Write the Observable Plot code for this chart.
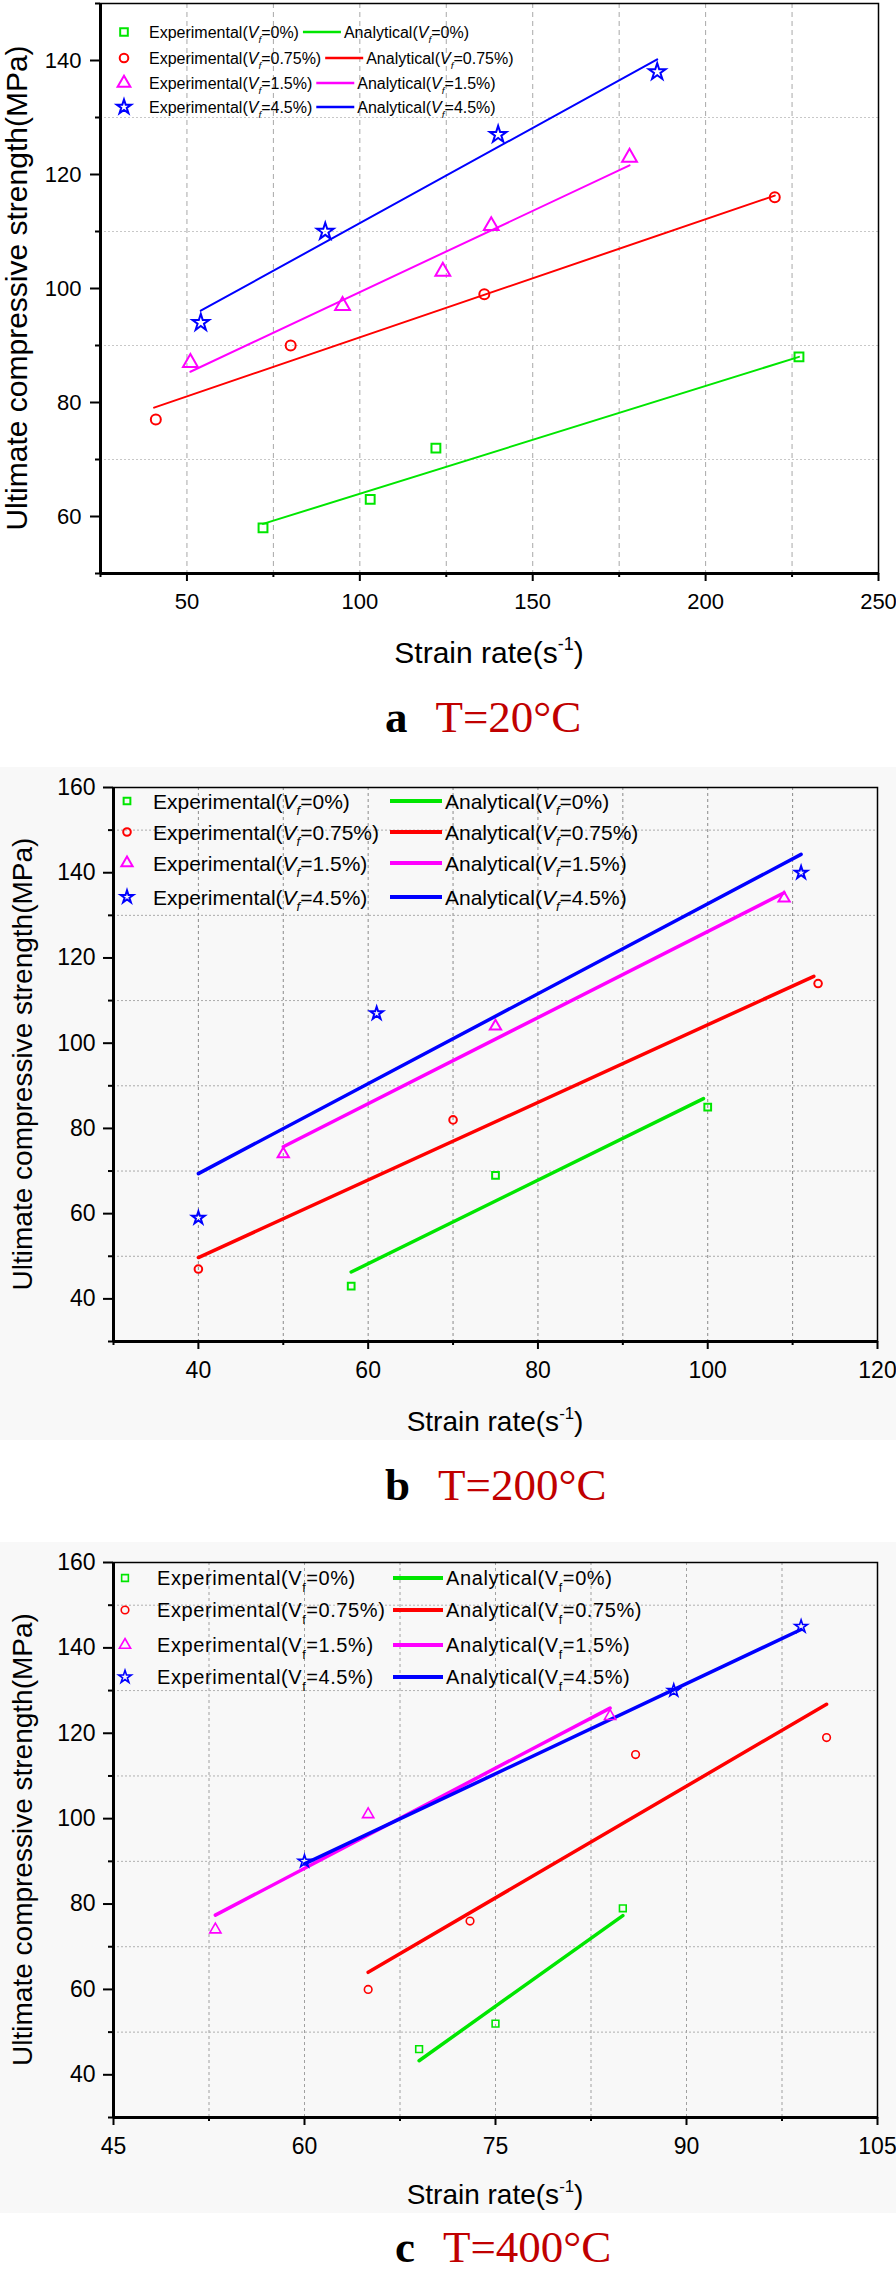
<!DOCTYPE html>
<html><head><meta charset="utf-8">
<script src="https://cdn.jsdelivr.net/npm/d3@7"></script>
<script src="https://cdn.jsdelivr.net/npm/@observablehq/plot@0.6"></script>
<style>
body{margin:0;background:#fff;}
#page{position:relative;width:896px;height:2276px;overflow:hidden;font-family:"Liberation Sans",Arial,sans-serif;}
.panel{position:absolute;left:0;}
.cap{position:absolute;font-family:"Liberation Serif","Times New Roman",serif;font-size:45px;line-height:40px;white-space:nowrap;}
.cap b{color:#000;}
.cap span{color:#c00000;margin-left:28px;}
</style></head><body><div id="page"></div>
<script>
// ---------- shared series info ----------
const seriesNames = ["0%", "0.75%", "1.5%", "4.5%"];
const seriesColors = ["#00e600", "#ff0000", "#ff00ff", "#0000ff"];
const seriesSymbols = ["square", "circle", "triangle", "star"];

// ---------- Panel a: T=20°C ----------
const a_exp_x = [[72, 103, 122, 227], [41, 80, 136, 220], [51, 95, 124, 138, 178], [54, 90, 140, 186]];
const a_exp_y = [[58, 63, 72, 88], [77, 90, 99, 116], [87, 97, 103, 111, 123], [94, 110, 127, 138]];
const a_ana_x = [[72, 227], [40.5, 220], [51, 178], [54, 186]];
const a_ana_y = [[58.7, 88], [79.1, 116.3], [85.4, 121.6], [96.1, 140.2]];
const a_xTicks = [50, 100, 150, 200, 250];
const a_xMinor = [25, 75, 125, 175, 225];
const a_yTicks = [60, 80, 100, 120, 140];
const a_yMinor = [50, 70, 90, 110, 130, 150];
const a_xGrid = [50, 75, 100, 125, 150, 175, 200, 225];
const a_yGrid = [70, 90, 110, 130];

// ---------- Panel b: T=200°C ----------
const b_exp_x = [[58, 75, 100], [40, 70, 113], [50, 75, 109], [40, 61, 111]];
const b_exp_y = [[43, 69, 85], [47, 82, 114], [74, 104, 134], [59, 107, 140]];
const b_ana_x = [[58, 99.5], [40, 112.5], [50, 109], [40, 111]];
const b_ana_y = [[46.3, 87], [49.7, 115.7], [75.7, 135.3], [69.4, 144.3]];
const b_xTicks = [40, 60, 80, 100, 120];
const b_xMinor = [30, 50, 70, 90, 110];
const b_yTicks = [40, 60, 80, 100, 120, 140, 160];
const b_yMinor = [30, 50, 70, 90, 110, 130, 150];
const b_xGrid = [40, 50, 60, 70, 80, 90, 100, 110];
const b_yGrid = [50, 70, 90, 110, 130, 150];

// ---------- Panel c: T=400°C ----------
const c_exp_x = [[69, 75, 85], [65, 73, 86, 101], [53, 65, 84], [60, 89, 99]];
const c_exp_y = [[46, 52, 79], [60, 76, 115, 119], [74, 101, 124], [90, 130, 145]];
const c_ana_x = [[69, 85], [65, 101], [53, 84], [60, 99]];
const c_ana_y = [[43.3, 77.3], [64, 126.8], [77.4, 125.9], [89.4, 144.3]];
const c_xTicks = [45, 60, 75, 90, 105];
const c_xMinor = [52.5, 67.5, 82.5, 97.5];
const c_yTicks = [40, 60, 80, 100, 120, 140, 160];
const c_yMinor = [30, 50, 70, 90, 110, 130, 150];
const c_xGrid = [52.5, 60, 67.5, 75, 82.5, 90, 97.5];
const c_yGrid = [50, 70, 90, 110, 130, 150];

const yLabelText = "Ultimate compressive strength(MPa)";
const d3Sym = {square: d3.symbolSquare, circle: d3.symbolCircle, triangle: d3.symbolTriangle, star: d3.symbolStar};

const page = document.getElementById("page");

function addFLabel(sel, prefix, val, fs, italic, ls) {
  sel.append("tspan").text(prefix + "(");
  sel.append("tspan").style("font-style", italic ? "italic" : "normal").text("V");
  sel.append("tspan").attr("dy", fs * 0.32).style("font-size", (fs * 0.62) + "px")
    .style("font-style", italic ? "italic" : "normal").text("f");
  sel.append("tspan").attr("dy", -fs * 0.32).text("=" + val + ")");
  if (ls) sel.style("letter-spacing", ls + "px");
}

function symR(sym, base) {
  return sym === "star" ? base * 1.05 : (sym === "triangle" ? base * 1.1 : base);
}

function makePanel(cfg) {
  const expRows = cfg.expX.map((xs, i) => xs.map((x, j) => ({x, y: cfg.expY[i][j]})));
  const anaRows = cfg.anaX.map((xs, i) => xs.map((x, j) => ({x, y: cfg.anaY[i][j]})));
  const marks = [
    Plot.gridX(cfg.xGrid, {stroke: cfg.gridXColor, strokeOpacity: 1, strokeDasharray: cfg.gridXDash, strokeWidth: 1}),
    Plot.gridY(cfg.yGrid, {stroke: cfg.gridYColor, strokeOpacity: 1, strokeDasharray: cfg.gridYDash, strokeWidth: 1}),
  ];
  anaRows.forEach((rows, i) => marks.push(Plot.line(rows, {x: "x", y: "y", stroke: seriesColors[i], strokeWidth: cfg.lineW})));
  expRows.forEach((rows, i) => marks.push(Plot.dot(rows, {
    x: "x", y: "y", symbol: seriesSymbols[i], stroke: seriesColors[i], fill: "none",
    strokeWidth: cfg.dotW, r: symR(seriesSymbols[i], cfg.dotR)
  })));
  marks.push(
    Plot.frame({stroke: "#000", strokeWidth: 1.5}),
    Plot.ruleX([cfg.xDomain[0]], {stroke: "#000", strokeWidth: 3}),
    Plot.ruleY([cfg.yDomain[0]], {stroke: "#000", strokeWidth: 3}),
    Plot.axisX(cfg.xTicks, {tickSize: 8, tickPadding: cfg.xPad, fontSize: cfg.tickFS, strokeWidth: 2, label: null, tickFormat: d => String(d)}),
    Plot.axisX(cfg.xMinor, {tickSize: 4, strokeWidth: 2, label: null, tickFormat: () => ""}),
    Plot.axisY(cfg.yTicks, {tickSize: 10, tickPadding: cfg.yPad, fontSize: cfg.tickFS, strokeWidth: 2, label: null, tickFormat: d => String(d)}),
    Plot.axisY(cfg.yMinor, {tickSize: 5, strokeWidth: 2, label: null, tickFormat: () => ""})
  );
  const plot = Plot.plot({
    width: 896, height: cfg.height,
    marginTop: cfg.mt, marginRight: cfg.mr, marginBottom: cfg.mb, marginLeft: cfg.ml,
    x: {domain: cfg.xDomain, label: null},
    y: {domain: cfg.yDomain, label: null},
    style: {fontFamily: '"Liberation Sans", Arial, sans-serif', background: cfg.bg, color: "#000", overflow: "visible"},
    marks
  });
  const wrap = document.createElement("div");
  wrap.className = "panel";
  wrap.style.top = cfg.top + "px";
  wrap.style.width = "896px";
  wrap.style.background = cfg.bg;
  wrap.appendChild(plot);
  page.appendChild(wrap);

  const svg = d3.select(plot);
  const ff = '"Liberation Sans", Arial, sans-serif';
  const fcx = (cfg.ml + 896 - cfg.mr) / 2;
  const fcy = (cfg.mt + cfg.height - cfg.mb) / 2;
  // y axis title
  svg.append("text")
    .attr("transform", `translate(${cfg.yLabX},${fcy}) rotate(-90)`)
    .attr("text-anchor", "middle").style("font-family", ff).style("font-size", cfg.labFS + "px")
    .attr("fill", "#000").text(yLabelText);
  // x axis title
  const xt = svg.append("text").attr("x", fcx).attr("y", cfg.xLabY).attr("text-anchor", "middle")
    .style("font-family", ff).style("font-size", cfg.labFS + "px").attr("fill", "#000");
  xt.append("tspan").text("Strain rate(s");
  xt.append("tspan").attr("dy", -cfg.labFS * 0.42).style("font-size", (cfg.labFS * 0.6) + "px").text("-1");
  xt.append("tspan").attr("dy", cfg.labFS * 0.42).text(")");

  // legend
  const lg = svg.append("g").attr("text-anchor", "start").style("font-family", ff)
    .style("font-size", cfg.legFS + "px").attr("fill", "#000");
  cfg.legRows.forEach((ry, i) => {
    const sym = seriesSymbols[i];
    const r = symR(sym, cfg.legR);
    lg.append("path")
      .attr("d", d3.symbol(d3Sym[sym], Math.PI * r * r)())
      .attr("transform", `translate(${cfg.legSymX},${ry})`)
      .attr("fill", "none").attr("stroke", seriesColors[i]).attr("stroke-width", cfg.dotW);
    const t1 = lg.append("text").attr("text-anchor", "start").attr("x", cfg.legTextX).attr("y", ry).attr("dy", "0.36em");
    addFLabel(t1, "Experimental", seriesNames[i], cfg.legFS, cfg.italic, cfg.legLS);
    let x0, x1;
    if (cfg.legLineX) { x0 = cfg.legLineX[0]; x1 = cfg.legLineX[1]; }
    else {
      const w = t1.node().getComputedTextLength();
      x0 = cfg.legTextX + w + 4; x1 = x0 + 38;
    }
    lg.append("line").attr("x1", x0).attr("x2", x1).attr("y1", ry).attr("y2", ry)
      .attr("stroke", seriesColors[i]).attr("stroke-width", cfg.lineW + 0.5);
    const t2 = lg.append("text").attr("text-anchor", "start").attr("x", x1 + 3).attr("y", ry).attr("dy", "0.36em");
    addFLabel(t2, "Analytical", seriesNames[i], cfg.legFS, cfg.italic, cfg.legLS);
  });
}

function addCaption(letter, label, baseline, left) {
  const d = document.createElement("div");
  d.className = "cap";
  // line-height 40px with 45px font: baseline ~35px below the box top
  d.style.top = (baseline - 35) + "px";
  d.style.left = left + "px";
  const b = document.createElement("b"); b.textContent = letter;
  const s = document.createElement("span"); s.textContent = label;
  d.appendChild(b); d.appendChild(s);
  page.appendChild(d);
}

makePanel({
  top: 0, height: 680, mt: 3, mr: 18, mb: 107, ml: 100, bg: "#ffffff",
  xDomain: [25, 250], yDomain: [50, 150],
  expX: a_exp_x, expY: a_exp_y, anaX: a_ana_x, anaY: a_ana_y,
  xTicks: a_xTicks, xMinor: a_xMinor, yTicks: a_yTicks, yMinor: a_yMinor, xGrid: a_xGrid, yGrid: a_yGrid,
  gridXColor: "#a8a8a8", gridXDash: "5,4", gridYColor: "#c8c8c8", gridYDash: "2,2",
  lineW: 2, dotW: 2, dotR: 5, tickFS: 22, labFS: 30, xPad: 12, yPad: 9,
  yLabX: 27, xLabY: 663,
  legFS: 16, legRows: [32, 58, 83, 107], legSymX: 124, legTextX: 149, legR: 4.3, italic: true, legLineX: null, legLS: 0
});
addCaption("a", "T=20°C", 732, 385);

makePanel({
  top: 767, height: 673, mt: 20, mr: 19, mb: 99, ml: 113, bg: "#f8f8f8",
  xDomain: [30, 120], yDomain: [30, 160],
  expX: b_exp_x, expY: b_exp_y, anaX: b_ana_x, anaY: b_ana_y,
  xTicks: b_xTicks, xMinor: b_xMinor, yTicks: b_yTicks, yMinor: b_yMinor, xGrid: b_xGrid, yGrid: b_yGrid,
  gridXColor: "#8a8a8a", gridXDash: "3,3", gridYColor: "#aaaaaa", gridYDash: "2,2",
  lineW: 3.5, dotW: 2, dotR: 3.8, tickFS: 23, labFS: 28, xPad: 12, yPad: 8,
  yLabX: 32, xLabY: 1431 - 767,
  legFS: 21, legRows: [34, 65, 96, 130], legSymX: 127, legTextX: 153, legR: 3.8, italic: true, legLineX: [390, 442], legLS: 0
});
addCaption("b", "T=200°C", 1500, 385);

makePanel({
  top: 1542, height: 671, mt: 20, mr: 19, mb: 96, ml: 113, bg: "#f8f8f8",
  xDomain: [45, 105], yDomain: [30, 160],
  expX: c_exp_x, expY: c_exp_y, anaX: c_ana_x, anaY: c_ana_y,
  xTicks: c_xTicks, xMinor: c_xMinor, yTicks: c_yTicks, yMinor: c_yMinor, xGrid: c_xGrid, yGrid: c_yGrid,
  gridXColor: "#a0a0a0", gridXDash: "3,3", gridYColor: "#b0b0b0", gridYDash: "2,2",
  lineW: 3.5, dotW: 1.6, dotR: 3.8, tickFS: 23, labFS: 28, xPad: 12, yPad: 8,
  yLabX: 32, xLabY: 2204 - 1542,
  legFS: 20, legRows: [36, 68, 103, 135], legSymX: 125, legTextX: 157, legR: 3.8, italic: false, legLineX: [393, 443], legLS: 0.6
});
addCaption("c", "T=400°C", 2262, 395);
</script></body></html>
